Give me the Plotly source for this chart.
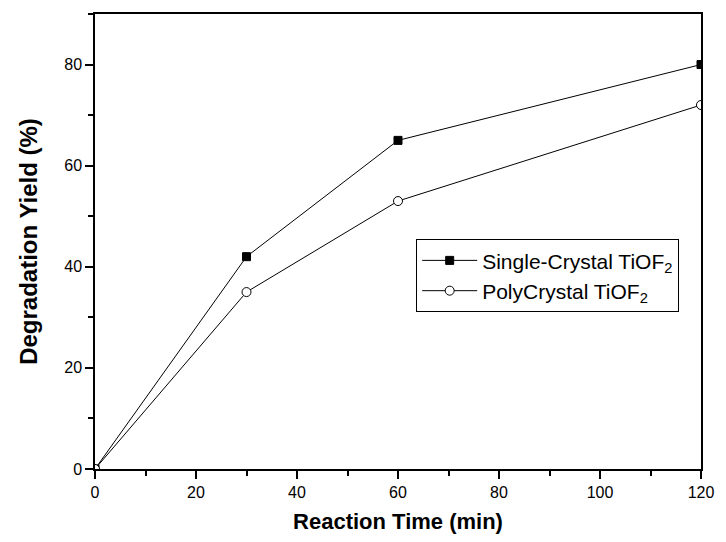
import plotly.graph_objects as go

time_min = [0, 30, 60, 120]
single_crystal = [0, 42, 65, 80]
poly_crystal = [0, 35, 53, 72]

x_ticks = [0, 20, 40, 60, 80, 100, 120]
y_ticks = [0, 20, 40, 60, 80]

font_family = "Liberation Sans, Arial, sans-serif"

fig = go.Figure()
fig.add_trace(go.Scatter(
    x=time_min, y=single_crystal, mode="lines+markers",
    name="Single-Crystal TiOF<sub>2</sub>",
    line=dict(color="black", width=1),
    marker=dict(symbol="square", size=8, color="black", line=dict(color="black", width=1)),
))
fig.add_trace(go.Scatter(
    x=time_min, y=poly_crystal, mode="lines+markers",
    name="PolyCrystal TiOF<sub>2</sub>",
    line=dict(color="black", width=1),
    marker=dict(symbol="circle", size=9, color="white", line=dict(color="black", width=1)),
))

axis_common = dict(
    showgrid=False, zeroline=False, showline=True, linecolor="black", linewidth=1.5,
    mirror=True, ticks="outside", ticklen=8, tickwidth=1.5, tickcolor="black",
    tickfont=dict(family=font_family, size=16, color="black"),
    minor=dict(ticks="outside", ticklen=5, tickwidth=1.5, tickcolor="black", dtick=10),
)

fig.update_xaxes(
    range=[0, 120], tickvals=x_ticks, ticktext=[str(v) for v in x_ticks],
    title=dict(text="<b>Reaction Time (min)</b>", font=dict(family=font_family, size=22, color="black"), standoff=14),
    **axis_common,
)
fig.update_yaxes(
    range=[0, 90], tickvals=y_ticks, ticktext=[str(v) for v in y_ticks],
    title=dict(text="<b>Degradation Yield (%)</b>", font=dict(family=font_family, size=24, color="black"), standoff=20),
    **axis_common,
)

fig.update_layout(
    width=726, height=542,
    margin=dict(l=95, r=18, t=13, b=73),
    paper_bgcolor="white", plot_bgcolor="white",
    font=dict(family=font_family, color="black"),
    legend=dict(
        x=0.53, y=0.505, xanchor="left", yanchor="top",
        bordercolor="black", borderwidth=1, bgcolor="white",
        font=dict(family=font_family, size=21, color="black"),
        tracegroupgap=0, itemwidth=55,
    ),
)

fig.write_html("out.html")
